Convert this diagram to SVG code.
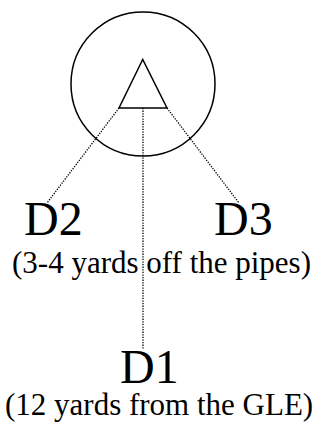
<svg xmlns="http://www.w3.org/2000/svg" width="325" height="427" viewBox="0 0 325 427">
<style>
.shape{fill:none;stroke:#000;stroke-width:1.5}
.dot{fill:none;stroke:#000;stroke-width:1.3;stroke-dasharray:1.3 1.3}
.big{font-family:"Liberation Serif","Times New Roman",serif;font-size:48px;fill:#000}
.small{font-family:"Liberation Serif","Times New Roman",serif;font-size:31px;fill:#000}
</style>
<rect width="325" height="427" fill="#fff"/>
<g id="connectors">
<line class="dot" x1="119" y1="108" x2="47" y2="203"/>
<line class="dot" x1="167" y1="108" x2="239" y2="203"/>
<line class="dot" x1="143" y1="108" x2="143" y2="349"/>
</g>
<g id="circle-node">
<circle class="shape" cx="143" cy="84" r="72"/>
<polygon class="shape" points="142.7,59.5 119,108 167,108"/>
</g>
<g id="D2"><text class="big" x="24" y="235">D2</text></g>
<g id="D3"><text class="big" x="214" y="235">D3</text></g>
<g id="note1"><text class="small" x="12" y="273">(3-4 yards off the pipes)</text></g>
<g id="D1"><text class="big" x="120" y="383">D1</text></g>
<g id="note2"><text class="small" x="5" y="415">(12 yards from the GLE)</text></g>
</svg>
